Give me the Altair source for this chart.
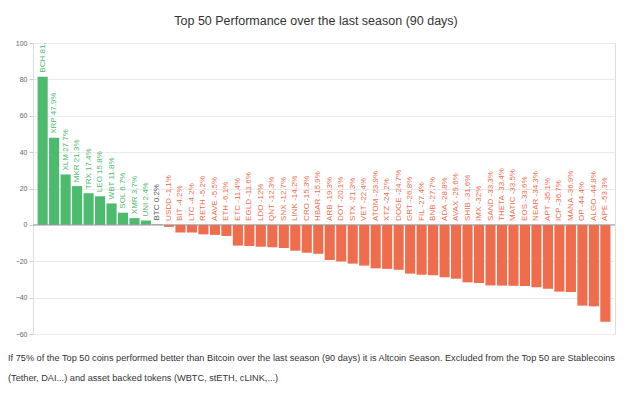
import altair as alt
import pandas as pd

coins = ["BCH", "XRP", "XLM", "MKR", "TRX", "LEO", "WBT", "SOL", "XMR", "UNI",
         "BTC", "USDD", "BIT", "LTC", "RETH", "AAVE", "ETH", "ETC", "EGLD", "LDO",
         "QNT", "SNX", "LINK", "CRO", "HBAR", "ARB", "DOT", "STX", "VET", "ATOM",
         "XTZ", "DOGE", "GRT", "FIL", "BNB", "ADA", "AVAX", "SHIB", "IMX", "SAND",
         "THETA", "MATIC", "EOS", "NEAR", "APT", "ICP", "MANA", "OP", "ALGO", "APE"]
values = [81.5, 47.9, 27.7, 21.3, 17.4, 15.8, 11.8, 6.7, 3.7, 2.4,
          0.2, -1.1, -4.2, -4.2, -5.2, -5.5, -6.1, -11.4, -11.6, -12,
          -12.3, -12.7, -14.2, -15.3, -15.9, -19.3, -20.1, -21.3, -22.4, -23.9,
          -24.2, -24.7, -26.8, -27.4, -27.7, -28.8, -29.6, -31.6, -32, -33.3,
          -33.4, -33.5, -33.6, -34.3, -35.1, -36.7, -36.9, -44.4, -44.8, -53.3]
y_ticks = [-60, -40, -20, 0, 20, 40, 60, 80, 100]

footer_lines = [
    "If 75% of the Top 50 coins performed better than Bitcoin over the last season (90 days) it is Altcoin Season. Excluded from the Top 50 are Stablecoins",
    "(Tether, DAI...) and asset backed tokens (WBTC, stETH, cLINK,...)",
]

df = pd.DataFrame({"coin": coins, "value": values})
df["kind"] = ["btc" if c == "BTC" else ("up" if v > 0 else "down") for c, v in zip(coins, values)]
df["label"] = [f"{c} {('%g' % v)}%" for c, v in zip(coins, values)]
df["ly"] = [max(v, 0) for v in values]

color = alt.Color("kind:N", legend=None,
                  scale=alt.Scale(domain=["up", "btc", "down"],
                                  range=["#4cbb6e", "#555555", "#ef6c4d"]))
xenc = alt.X("coin:N", sort=coins, axis=None,
             scale=alt.Scale(paddingInner=0.12, paddingOuter=0.4))
yscale = alt.Scale(domain=[-60, 100], nice=False)
yaxis = alt.Axis(values=y_ticks, tickCount=9, title=None,
                 labelFontSize=7, labelColor="#666", tickSize=4,
                 tickColor="#ccc", domainColor="#ddd", gridColor="#ebebeb",
                 labelPadding=2, labelOverlap=False)

base = alt.Chart(df)

bars = base.mark_bar().encode(
    x=xenc,
    y=alt.Y("value:Q", scale=yscale, axis=yaxis),
    color=color,
)

labels = base.mark_text(angle=270, align="left", baseline="middle", dx=4,
                        fontSize=8, font="Liberation Sans", clip=True).encode(
    x=xenc,
    y=alt.Y("ly:Q", scale=yscale, axis=yaxis),
    text="label:N",
    color=color,
)

zero = alt.Chart(pd.DataFrame({"z": [0]})).mark_rule(color="#999", strokeWidth=1).encode(
    y=alt.Y("z:Q", scale=yscale, axis=yaxis)
)

footer1 = alt.Chart(pd.DataFrame({"t": [footer_lines[0]]})).mark_text(
    align="left", baseline="middle", fontSize=9.2, font="Liberation Sans", color="#333"
).encode(x=alt.value(-25), y=alt.value(315), text="t:N")

footer2 = alt.Chart(pd.DataFrame({"t": [footer_lines[1]]})).mark_text(
    align="left", baseline="middle", fontSize=9.2, font="Liberation Sans", color="#333"
).encode(x=alt.value(-25), y=alt.value(335), text="t:N")

chart = alt.layer(bars, zero, labels, footer1, footer2).properties(
    width=582, height=291,
    autosize=alt.AutoSizeParams(type="none"),
    padding={"left": 25, "top": 35, "right": 3, "bottom": 56},
    title=alt.TitleParams("Top 50 Performance over the last season (90 days)",
                          fontSize=12.5, font="Liberation Sans", fontWeight="normal",
                          color="#333", offset=12, dx=-8),
).configure_view(strokeWidth=0).configure(background="white")

chart.save("out.html", embed_options={"renderer": "svg", "actions": False})
